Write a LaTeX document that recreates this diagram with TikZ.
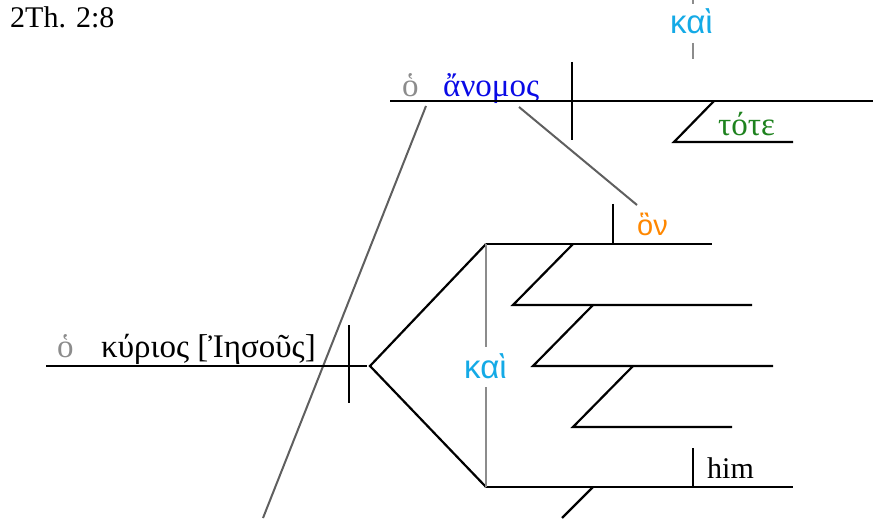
\documentclass[tikz,border=0pt]{standalone}
\usepackage{fontspec}
\setmainfont{Liberation Serif}
\newfontfamily\sansgr{Liberation Sans}
\definecolor{kaicol}{RGB}{20,170,230}
\definecolor{nomcol}{RGB}{10,10,230}
\definecolor{totecol}{RGB}{30,130,30}
\definecolor{oncol}{RGB}{255,135,0}
\definecolor{artcol}{RGB}{140,140,140}
\definecolor{linkcol}{RGB}{95,95,95}
\tikzset{
  base/.style={line width=2.2pt, black},
  link/.style={line width=2pt, linkcol},
  conj/.style={line width=2pt, artcol},
  txt/.style={inner sep=0pt, anchor=base west, font=\fontsize{30}{34}\selectfont},
  gtxt/.style={inner sep=0pt, anchor=base west, font=\fontsize{33}{38}\selectfont},
  gsans/.style={inner sep=0pt, anchor=base west, font=\fontsize{33}{38}\selectfont\sansgr},
}
\begin{document}
\begin{tikzpicture}[x=1pt,y=-1pt]
\useasboundingbox (0,0) rectangle (874,529);
% text
\node[txt] (ref) at (10,28) {2Th. 2:8};
\node[gsans, text=kaicol] (kaitop) at (670,34) {καὶ};
\node[gtxt, text=artcol] (art1) at (402,97) {ὁ};
\node[gtxt, text=nomcol] (anomos) at (443,97) {ἄνομος};
\node[gtxt, text=totecol] (tote) at (718,136) {τότε};
\node[gsans, text=oncol, font=\fontsize{29}{34}\selectfont\sansgr] (hon) at (637,236) {ὃν};
\node[gtxt, text=artcol] (art2) at (57,357) {ὁ};
\node[gtxt] (kyrios) at (101,357) {κύριος [Ἰησοῦς]};
\node[gsans, text=kaicol] (kaimid) at (464,378) {καὶ};
\node[txt] (him) at (707,478) {him};
% coordinates
\coordinate (kt1) at (693,0); \coordinate (kt2) at (693,4);
\coordinate (kt3) at (693,43); \coordinate (kt4) at (693,59);
\coordinate (sA) at (390,101); \coordinate (sB) at (873,101);
\coordinate (dA) at (572,62); \coordinate (dB) at (572,140);
\coordinate (t1) at (714,101); \coordinate (t2) at (674,142); \coordinate (t3) at (793,142);
\coordinate (g1a) at (426,106); \coordinate (g1b) at (263,518);
\coordinate (g2a) at (519,107); \coordinate (g2b) at (637,205);
\coordinate (ova) at (613,204); \coordinate (ovb) at (613,244);
\coordinate (kA) at (46,366); \coordinate (kB) at (367,366);
\coordinate (kvA) at (349,325); \coordinate (kvB) at (349,403);
\coordinate (fork) at (370,366);
\coordinate (top) at (486,244); \coordinate (topE) at (712,244);
\coordinate (bot) at (486,487); \coordinate (botE) at (793,487);
\coordinate (s1a) at (573,244); \coordinate (s1b) at (513,305); \coordinate (s1c) at (752,305);
\coordinate (s2a) at (593,305); \coordinate (s2b) at (533,366); \coordinate (s2c) at (773,366);
\coordinate (s3a) at (633,366); \coordinate (s3b) at (573,427); \coordinate (s3c) at (732,427);
\coordinate (hvA) at (693,448); \coordinate (hvB) at (693,488);
\coordinate (bsa) at (593,487); \coordinate (bsb) at (562,518);
\coordinate (cv1) at (486,347); \coordinate (cv2) at (486,387);
% connectors
\draw[conj] (kt1) -- (kt2);
\draw[conj] (kt3) -- (kt4);
\draw[base] (sA) -- (sB);
\draw[base] (dA) -- (dB);
\draw[base] (t1) -- (t2) -- (t3);
\draw[link] (g1a) -- (g1b);
\draw[link] (g2a) -- (g2b);
\draw[base] (ova) -- (ovb);
\draw[base] (kA) -- (kB);
\draw[base] (kvA) -- (kvB);
\draw[base] (top) -- (fork) -- (bot);
\draw[base] (top) -- (topE);
\draw[base] (bot) -- (botE);
\draw[base] (s1a) -- (s1b) -- (s1c);
\draw[base] (s2a) -- (s2b) -- (s2c);
\draw[base] (s3a) -- (s3b) -- (s3c);
\draw[base] (hvA) -- (hvB);
\draw[base] (bsa) -- (bsb);
\draw[conj] (top) -- (cv1);
\draw[conj] (cv2) -- (bot);
\end{tikzpicture}
\end{document}
